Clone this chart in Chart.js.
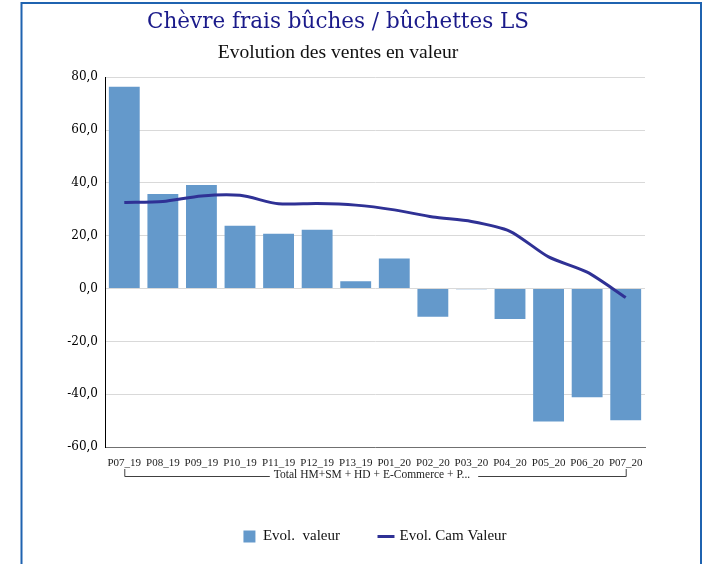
<!DOCTYPE html>
<html>
<head>
<meta charset="utf-8">
<script src="https://cdn.jsdelivr.net/npm/chart.js@4.4.1/dist/chart.umd.min.js"></script>
<style>
  html, body { margin: 0; padding: 0; background: #fff; }
  #wrap { width: 702px; height: 564px; position: relative; }
</style>
</head>
<body>
<div id="wrap"><canvas id="chart" width="702" height="564"></canvas></div>
<script>
// données
const categories = ['P07_19', 'P08_19', 'P09_19', 'P10_19', 'P11_19', 'P12_19', 'P13_19',
                    'P01_20', 'P02_20', 'P03_20', 'P04_20', 'P05_20', 'P06_20', 'P07_20'];
const evolValeur = [76.4, 35.8, 39.2, 23.8, 20.8, 22.3, 2.8, 11.4, -10.7, -0.3, -11.5, -50.3, -41.2, -49.9];
const evolCamValeur = [32.6, 33.0, 35.1, 35.3, 32.1, 32.2, 31.6, 29.8, 27.1, 25.4, 21.7, 12.0, 6.2, -3.4];
const groupLabel = 'Total HM+SM + HD + E-Commerce + P...';
const yTicks = { min: -60, max: 80, step: 20 };

// cadre + fond blanc
const framePlugin = {
    id: 'frame',
    beforeDraw(chart) {
        const ctx = chart.ctx;
        ctx.save();
        ctx.fillStyle = '#fff';
        ctx.fillRect(0, 0, chart.width, chart.height);
        ctx.restore();
    },
    afterDraw(chart) {
        const ctx = chart.ctx;
        ctx.save();
        ctx.strokeStyle = '#1f63b0';
        ctx.lineWidth = 2;
        ctx.strokeRect(21.5, 3, chart.width - 22.5, chart.height + 10);
        ctx.restore();
    }
};

// accolade du groupe sous les catégories
const groupPlugin = {
    id: 'groupBracket',
    afterDraw(chart) {
        const x = chart.scales.x;
        const ctx = chart.ctx;
        const x0 = x.getPixelForValue(0);
        const x1 = x.getPixelForValue(categories.length - 1);
        const y = chart.chartArea.bottom + 29;
        ctx.save();
        ctx.font = '11.5px "Liberation Serif"';
        const tw = ctx.measureText(groupLabel).width;
        const tc = (x0 + x1) / 2 - 3;
        ctx.strokeStyle = '#404040';
        ctx.lineWidth = 1;
        ctx.beginPath();
        ctx.moveTo(x0 + 0.5, y - 7);
        ctx.lineTo(x0 + 0.5, y + 0.5);
        ctx.lineTo(tc - tw / 2 - 4, y + 0.5);
        ctx.moveTo(tc + tw / 2 + 8, y + 0.5);
        ctx.lineTo(x1 + 0.5, y + 0.5);
        ctx.lineTo(x1 + 0.5, y - 7);
        ctx.stroke();
        ctx.fillStyle = '#222';
        ctx.textAlign = 'center';
        ctx.textBaseline = 'middle';
        ctx.fillText(groupLabel, tc, y - 1);
        ctx.restore();
    }
};

const ctx = document.getElementById('chart').getContext('2d');
new Chart(ctx, {
    data: {
        labels: categories,
        datasets: [{
            type: 'bar',
            label: 'Evol.  valeur',
            data: evolValeur,
            backgroundColor: '#6499cb',
            borderWidth: 0,
            barPercentage: 0.8,
            categoryPercentage: 1.0,
            pointStyle: 'rect',
            order: 1
        }, {
            type: 'line',
            label: 'Evol. Cam Valeur',
            data: evolCamValeur,
            borderColor: '#2f3195',
            backgroundColor: '#2f3195',
            borderWidth: 3,
            pointRadius: 0,
            pointStyle: 'line',
            tension: 0.25,
            order: 0
        }]
    },
    options: {
        responsive: false,
        animation: false,
        layout: {
            padding: { left: 31, right: 57, top: 0, bottom: 10 }
        },
        plugins: {
            title: {
                display: true,
                text: 'Chèvre frais bûches / bûchettes LS',
                color: '#1a1a8a',
                font: { family: '"DejaVu Serif"', size: 21.5, weight: 'normal' },
                padding: { top: 10, bottom: 2 }
            },
            subtitle: {
                display: true,
                text: 'Evolution des ventes en valeur',
                color: '#111',
                font: { family: '"Liberation Serif"', size: 19.6 },
                padding: { top: 3, bottom: 13 }
            },
            legend: {
                position: 'bottom',
                fullSize: false,
                labels: {
                    usePointStyle: true,
                    boxWidth: 12,
                    boxHeight: 12,
                    padding: 40,
                    color: '#111',
                    font: { family: '"Liberation Serif"', size: 15 },
                    sort: (a, b) => a.datasetIndex - b.datasetIndex
                }
            },
            tooltip: { enabled: false }
        },
        scales: {
            x: {
                grid: { display: false, drawTicks: false },
                border: { color: '#707070', width: 1 },
                ticks: {
                    color: '#222',
                    font: { family: '"Liberation Serif"', size: 11 },
                    padding: 10,
                    maxRotation: 0,
                    autoSkip: false
                },
                afterFit(scale) { scale.height = 42; }
            },
            y: {
                min: yTicks.min,
                max: yTicks.max,
                grid: { color: '#d9d9d9', drawTicks: false },
                border: { color: '#000', width: 1 },
                ticks: {
                    stepSize: yTicks.step,
                    color: '#000',
                    padding: 7,
                    font: { family: '"DejaVu Serif"', size: 12 },
                    callback: v => v.toFixed(1).replace('.', ',')
                },
                afterFit(scale) { scale.width = 74; }
            }
        }
    },
    plugins: [framePlugin, groupPlugin]
});
</script>
</body>
</html>
